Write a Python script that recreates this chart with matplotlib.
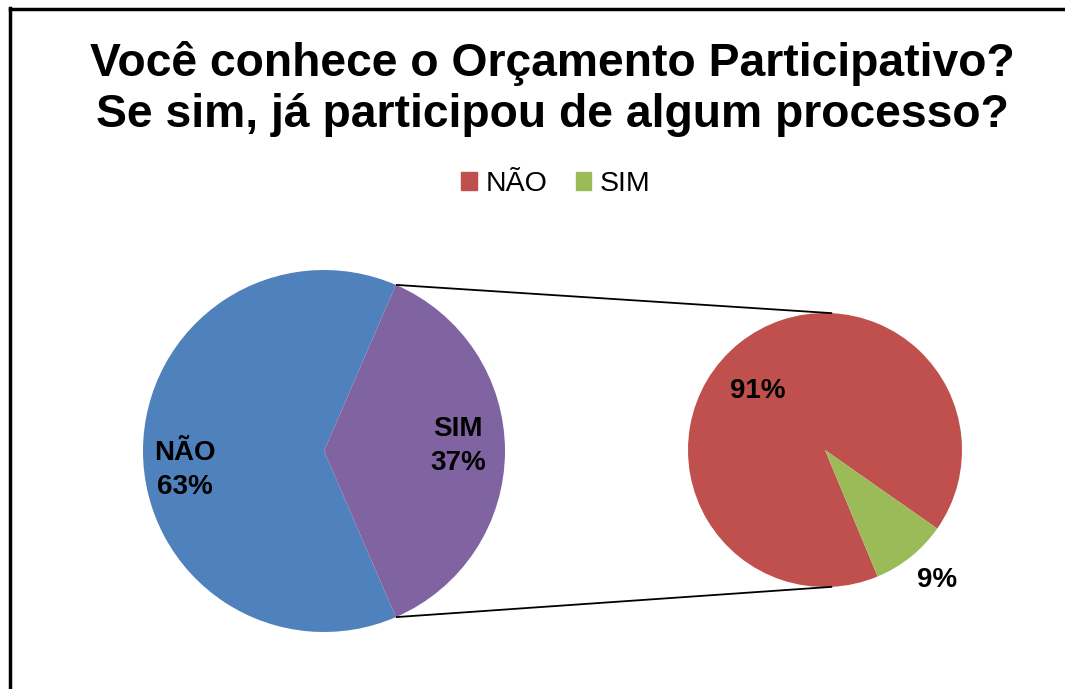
import numpy as np
import matplotlib
matplotlib.use("Agg")
import matplotlib.pyplot as plt
from matplotlib.patches import Patch

plt.rcParams['font.family'] = ['Liberation Sans', 'DejaVu Sans']

# data
title = "Você conhece o Orçamento Participativo?\nSe sim, já participou de algum processo?"
main_labels = ["NÃO", "SIM"]
main_values = [63, 37]
sub_labels = ["NÃO", "SIM"]
sub_values = [91, 9]

blue, purple = "#4F81BD", "#8064A2"
red, green = "#C0504D", "#9BBB59"

W, H = 1065, 689
fig = plt.figure(figsize=(W / 100, H / 100), dpi=100)
ax = fig.add_axes([0, 0, 1, 1])

# pixel-like coordinates, y up
c1, r1 = (324, H - 451), 181
c2, r2 = (825, H - 450), 137

# main pie: SIM wedge centred on the right
start1 = 360 - 360 * main_values[1] / sum(main_values) / 2 - 360 * main_values[0] / sum(main_values)
w1, _ = ax.pie(main_values, colors=[blue, purple], startangle=start1,
               center=c1, radius=r1, wedgeprops=dict(linewidth=0))
# second pie
start2 = -35
w2, _ = ax.pie(sub_values, colors=[red, green], startangle=start2,
               center=c2, radius=r2, wedgeprops=dict(linewidth=0))

# connector lines from SIM wedge edges to second pie
sim = w1[1]
for ang1, ang2 in [(sim.theta2, 87), (sim.theta1, -87)]:
    x1 = c1[0] + r1 * np.cos(np.radians(ang1))
    y1 = c1[1] + r1 * np.sin(np.radians(ang1))
    x2 = c2[0] + r2 * np.cos(np.radians(ang2))
    y2 = c2[1] + r2 * np.sin(np.radians(ang2))
    ax.plot([x1, x2], [y1, y2], color="black", lw=1.3, solid_capstyle="butt")

# labels
lab_kw = dict(ha="center", va="center", fontsize=20, fontweight="bold",
              linespacing=1.4)
ax.text(185, H - 470, f"{main_labels[0]}\n{main_values[0]}%", **lab_kw)
ax.text(458, H - 446, f"{main_labels[1]}\n{main_values[1]}%", **lab_kw)
ax.text(758, H - 391, f"{sub_values[0]}%", **lab_kw)
ax.text(937, H - 580, f"{sub_values[1]}%", **lab_kw)

ax.set_xlim(0, W)
ax.set_ylim(0, H)
ax.set_aspect("equal")
ax.axis("off")

# title and legend
ax.text(552, H - 89, title, ha="center", va="center",
        fontsize=33.3, fontweight="bold", linespacing=1.18)

handles = [Patch(color=red), Patch(color=green)]
ax.legend(handles, sub_labels, loc="center", bbox_to_anchor=(556 / W, 1 - 184 / H),
          ncol=2, frameon=False, fontsize=20.5, handlelength=0.55, handleheight=0.55,
          handletextpad=0.3, columnspacing=1.0)

# border (left and top only visible)
fig.add_artist(plt.Line2D([10 / W, 10 / W], [0, 1 - 8 / H], color="black", lw=2.5,
                          transform=fig.transFigure))
fig.add_artist(plt.Line2D([10 / W, 1], [1 - 9 / H, 1 - 9 / H], color="black", lw=2.5,
                          transform=fig.transFigure))

fig.savefig("out.png", dpi=100)
